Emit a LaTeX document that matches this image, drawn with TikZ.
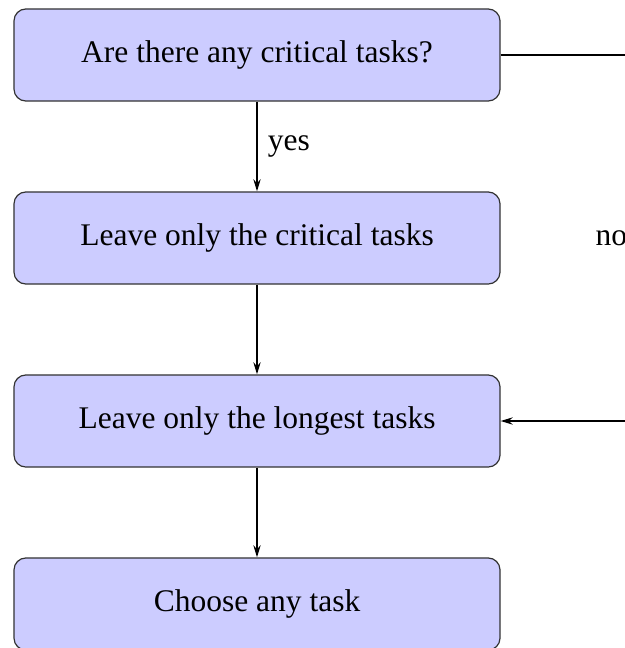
\documentclass[tikz,border=0pt]{standalone}
\usepackage{fontspec}
\setmainfont{Liberation Serif}
\usetikzlibrary{arrows.meta}
\begin{document}
\begin{tikzpicture}[x=0.3333pt,y=-0.3333pt,
  stepbox/.style={rectangle, draw=black!80, line width=0.4pt, fill=blue!20,
    rounded corners=4pt, minimum width=162pt, minimum height=30.7pt,
    inner sep=0pt, font=\fontsize{10.5}{12.6}\selectfont},
  flow/.style={line width=0.65pt, -{Stealth[length=4pt,width=2.4pt,inset=1.3pt]}},
  lbl/.style={font=\fontsize{10.5}{12.6}\selectfont}]
  \clip (0,0) rectangle (625,648);
  \node[stepbox] (q)  at (257,55)  {Are there any critical tasks?};
  \node[stepbox] (crit) at (257,238) {Leave only the critical tasks};
  \node[stepbox] (lng)  at (257,421) {Leave only the longest tasks};
  \node[stepbox] (any)  at (257,604) {Choose any task};
  % decision branches
  \draw[flow] (q) -- node[lbl, right] {yes} (crit);
  \draw[flow] (crit) -- (lng);
  \draw[flow] (lng) -- (any);
  \coordinate (rt) at (638,55);
  \coordinate (rb) at (638,421);
  \draw[flow] (q.east) -- (rt) -- node[lbl, left] {no} (rb) -- (lng.east);
\end{tikzpicture}
\end{document}
